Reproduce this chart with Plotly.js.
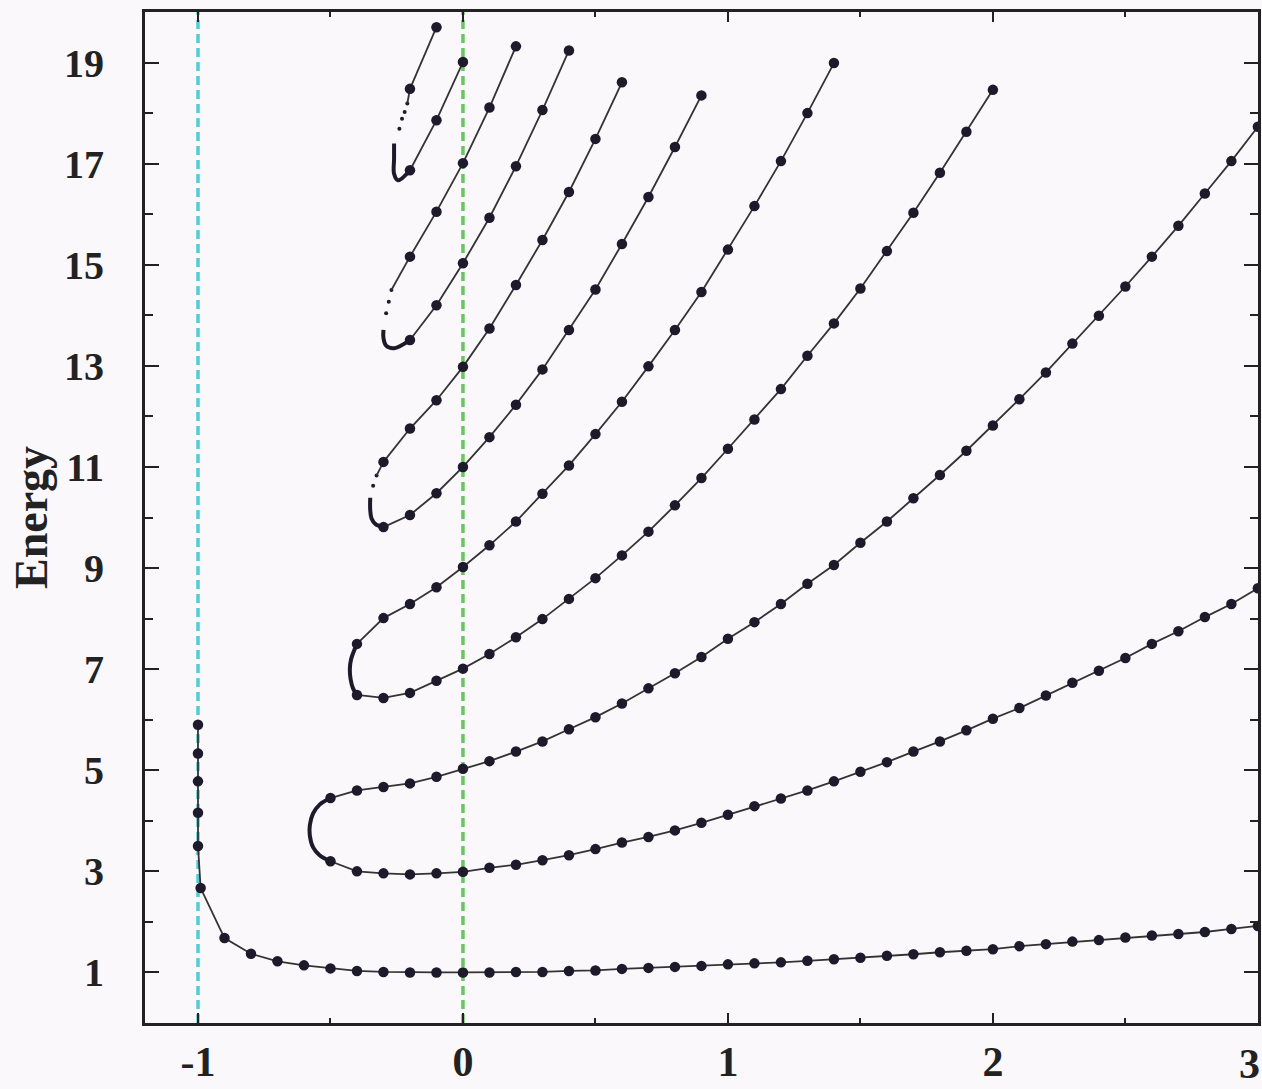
<!DOCTYPE html>
<html><head><meta charset="utf-8">
<script src="https://cdn.plot.ly/plotly-3.0.1.min.js"></script>
<style>html,body{margin:0;padding:0;background:#fbf8fb;} #chart{width:1262px;height:1089px;}</style>
</head><body><div id="chart"></div>
<script>
// ---- data ----
const refLinesX = [-1, 0];

// ground state
const gsX = [-1.0,-1.0,-1.0,-1.0,-1.0,-0.99,-0.9,-0.8,-0.7,-0.6,-0.5,-0.4,-0.3,-0.2,-0.1,0,0.1,0.2,0.3,0.4,0.5,0.6,0.7,0.8,0.9,1.0,1.1,1.2,1.3,1.4,1.5,1.6,1.7,1.8,1.9,2.0,2.1,2.2,2.3,2.4,2.5,2.6,2.7,2.8,2.9,3.0];
const gsE = [5.90,5.33,4.78,4.16,3.50,2.67,1.68,1.37,1.22,1.14,1.08,1.03,1.01,1.00,1.00,1.00,1.00,1.01,1.01,1.03,1.04,1.07,1.09,1.11,1.13,1.16,1.18,1.20,1.23,1.26,1.29,1.33,1.36,1.40,1.43,1.46,1.52,1.56,1.61,1.64,1.69,1.73,1.76,1.80,1.86,1.92];

// curve 2 (E(0)=3 and 5)
const c2LowX = [-0.5,-0.4,-0.3,-0.2,-0.1,0,0.1,0.2,0.3,0.4,0.5,0.6,0.7,0.8,0.9,1.0,1.1,1.2,1.3,1.4,1.5,1.6,1.7,1.8,1.9,2.0,2.1,2.2,2.3,2.4,2.5,2.6,2.7,2.8,2.9,3.0];
const c2LowE = [3.20,3.00,2.96,2.94,2.96,2.99,3.07,3.13,3.22,3.32,3.44,3.57,3.68,3.81,3.96,4.12,4.29,4.44,4.60,4.78,4.97,5.16,5.37,5.57,5.79,6.02,6.23,6.48,6.73,6.97,7.22,7.50,7.75,8.03,8.29,8.60];
const c2UpX = [-0.5,-0.4,-0.3,-0.2,-0.1,0,0.1,0.2,0.3,0.4,0.5,0.6,0.7,0.8,0.9,1.0,1.1,1.2,1.3,1.4,1.5,1.6,1.7,1.8,1.9,2.0,2.1,2.2,2.3,2.4,2.5,2.6,2.7,2.8,2.9,3.0];
const c2UpE = [4.45,4.60,4.67,4.74,4.87,5.03,5.18,5.37,5.57,5.81,6.05,6.32,6.62,6.92,7.24,7.60,7.93,8.29,8.69,9.06,9.50,9.92,10.38,10.84,11.32,11.82,12.34,12.87,13.44,13.99,14.57,15.16,15.77,16.41,17.05,17.73];
const c2TurnX = [-0.5,-0.541,-0.566,-0.578,-0.578,-0.566,-0.541,-0.5];
const c2TurnE = [3.20,3.32,3.48,3.71,3.91,4.14,4.32,4.45];

// curve 3 (E(0)=7 and 9)
const c3LowX = [-0.4,-0.3,-0.2,-0.1,0,0.1,0.2,0.3,0.4,0.5,0.6,0.7,0.8,0.9,1.0,1.1,1.2,1.3,1.4,1.5,1.6,1.7,1.8,1.9,2.0];
const c3LowE = [6.49,6.43,6.53,6.77,7.01,7.30,7.63,7.99,8.39,8.80,9.25,9.72,10.24,10.78,11.36,11.94,12.54,13.20,13.84,14.53,15.27,16.03,16.82,17.63,18.46];
const c3UpX = [-0.4,-0.3,-0.2,-0.1,0,0.1,0.2,0.3,0.4,0.5,0.6,0.7,0.8,0.9,1.0,1.1,1.2,1.3,1.4];
const c3UpE = [7.50,8.01,8.29,8.62,9.02,9.45,9.92,10.47,11.03,11.65,12.29,12.99,13.71,14.46,15.30,16.16,17.05,18.00,18.99];
const c3TurnX = [-0.4,-0.415,-0.424,-0.427,-0.422,-0.4];
const c3TurnE = [6.49,6.62,6.80,7.00,7.20,7.50];

// curve 4 (E(0)=11 and 13)
const c4LowX = [-0.3,-0.2,-0.1,0,0.1,0.2,0.3,0.4,0.5,0.6,0.7,0.8,0.9];
const c4LowE = [9.81,10.05,10.48,11.00,11.59,12.23,12.93,13.71,14.51,15.41,16.34,17.33,18.35];
const c4UpX = [-0.3,-0.2,-0.1,0,0.1,0.2,0.3,0.4,0.5,0.6];
const c4UpE = [11.10,11.76,12.32,12.98,13.74,14.60,15.49,16.44,17.49,18.61];
const c4TurnX = [-0.3,-0.33,-0.345,-0.35,-0.35];
const c4TurnE = [9.81,9.87,9.98,10.15,10.39];
const c4DotX = [-0.339,-0.326];
const c4DotE = [10.63,10.83];

// curve 5 (E(0)=15 and 17)
const c5LowX = [-0.2,-0.1,0,0.1,0.2,0.3,0.4];
const c5LowE = [13.51,14.20,15.03,15.93,16.95,18.06,19.24];
const c5UpX = [-0.2,-0.1,0,0.1,0.2];
const c5UpE = [15.16,16.05,17.01,18.11,19.32];
const c5TurnX = [-0.2,-0.26,-0.29,-0.30,-0.30];
const c5TurnE = [13.51,13.35,13.40,13.55,13.71];
const c5DotX = [-0.29,-0.28,-0.27];
const c5DotE = [14.04,14.27,14.50];

// curve 6 (E(0)=19)
const c6LowX = [-0.2,-0.1,0];
const c6LowE = [16.87,17.86,19.01];
const c6UpX = [-0.2,-0.1];
const c6UpE = [18.48,19.70];
const c6TurnX = [-0.2,-0.245,-0.26,-0.26,-0.26];
const c6TurnE = [16.87,16.67,16.80,17.10,17.40];
const c6DotX = [-0.24,-0.23,-0.22,-0.21];
const c6DotE = [17.69,17.89,18.02,18.19];

const yTicks = [1,3,5,7,9,11,13,15,17,19];
const xTicks = [-1,0,1,2,3];
const xTickText = ['-1','0','1','2','3'];

// ---- styling ----
const DOT = '#1d1b2b', LINE = '#333333';
function branch(x, y, mode) {
  return {x, y, type:'scatter', mode: mode || 'lines+markers', hoverinfo:'skip', showlegend:false,
    line:{color:LINE, width:1.8}, marker:{color:DOT, size:10.5}};
}
function turn(x, y) {
  return {x, y, type:'scatter', mode:'lines', hoverinfo:'skip', showlegend:false,
    line:{color:DOT, width:4, shape:'spline'}};
}
function dots(x, y) {
  return {x, y, type:'scatter', mode:'markers', hoverinfo:'skip', showlegend:false,
    marker:{color:DOT, size:4}};
}
const traces = [
  turn(c2TurnX, c2TurnE), turn(c3TurnX, c3TurnE), turn(c4TurnX, c4TurnE),
  turn(c5TurnX, c5TurnE), turn(c6TurnX, c6TurnE),
  dots(c4DotX, c4DotE), dots(c5DotX, c5DotE), dots(c6DotX, c6DotE),
  branch([c4DotX[c4DotX.length-1], c4UpX[0]], [c4DotE[c4DotE.length-1], c4UpE[0]], 'lines'),
  branch([c5DotX[c5DotX.length-1], c5UpX[0]], [c5DotE[c5DotE.length-1], c5UpE[0]], 'lines'),
  branch([c6DotX[c6DotX.length-1], c6UpX[0]], [c6DotE[c6DotE.length-1], c6UpE[0]], 'lines'),
  branch(gsX, gsE),
  branch(c2LowX, c2LowE), branch(c2UpX, c2UpE),
  branch(c3LowX, c3LowE), branch(c3UpX, c3UpE),
  branch(c4LowX, c4LowE), branch(c4UpX, c4UpE),
  branch(c5LowX, c5LowE), branch(c5UpX, c5UpE),
  branch(c6LowX, c6LowE), branch(c6UpX, c6UpE)
];

const refColors = ['#52ccd6', '#66c75e'];
const shapes = refLinesX.map((xv, i) => ({
  type:'line', xref:'x', yref:'paper', x0:xv, x1:xv, y0:0, y1:1, layer:'below',
  line:{color:refColors[i], width:3.5, dash:'9px,5px'}
}));

const FONT = 'Liberation Serif, Times New Roman, serif';
const tickFontX = {family:FONT, size:42, color:'#222', weight:'bold'};
// the last x tick label sits at the right edge of the figure; draw it right-aligned so it stays visible
const lastIdx = xTicks.length - 1;
const annotations = [{
  xref:'x', yref:'paper', x:xTicks[lastIdx], y:0, xanchor:'right', yanchor:'top',
  text:xTickText[lastIdx], showarrow:false, font:tickFontX, xshift:4, yshift:-16
}];

const layout = {
  width:1262, height:1089,
  margin:{l:145, r:4, t:12, b:66},
  paper_bgcolor:'#fbf8fb', plot_bgcolor:'#fbf8fb',
  showlegend:false,
  shapes, annotations,
  xaxis:{range:[-1.2,3.0005], tickvals:xTicks, ticktext:xTickText.map((t, i) => i === lastIdx ? '' : t),
    ticks:'inside', ticklen:10, tickwidth:2, tickcolor:'#222',
    minor:{dtick:0.5, tick0:0, ticks:'inside', ticklen:5, tickwidth:2, tickcolor:'#222'},
    showline:true, linecolor:'#222', linewidth:3, mirror:'ticks', showgrid:false, zeroline:false,
    tickfont:tickFontX, ticklabelstandoff:0},
  yaxis:{range:[0,20], tickvals:yTicks, ticks:'inside', ticklen:14, tickwidth:2, tickcolor:'#222',
    minor:{dtick:1, tick0:0, ticks:'inside', ticklen:8, tickwidth:2, tickcolor:'#222'},
    showline:true, linecolor:'#222', linewidth:3, mirror:'ticks', showgrid:false, zeroline:false,
    tickfont:{family:FONT, size:40, color:'#222', weight:'bold'}, ticklabelstandoff:30,
    title:{text:'Energy', font:{family:FONT, size:46, color:'#222', weight:'bold'}, standoff:2}}
};
Plotly.newPlot('chart', traces, layout, {displayModeBar:false, staticPlot:true});
</script></body></html>
